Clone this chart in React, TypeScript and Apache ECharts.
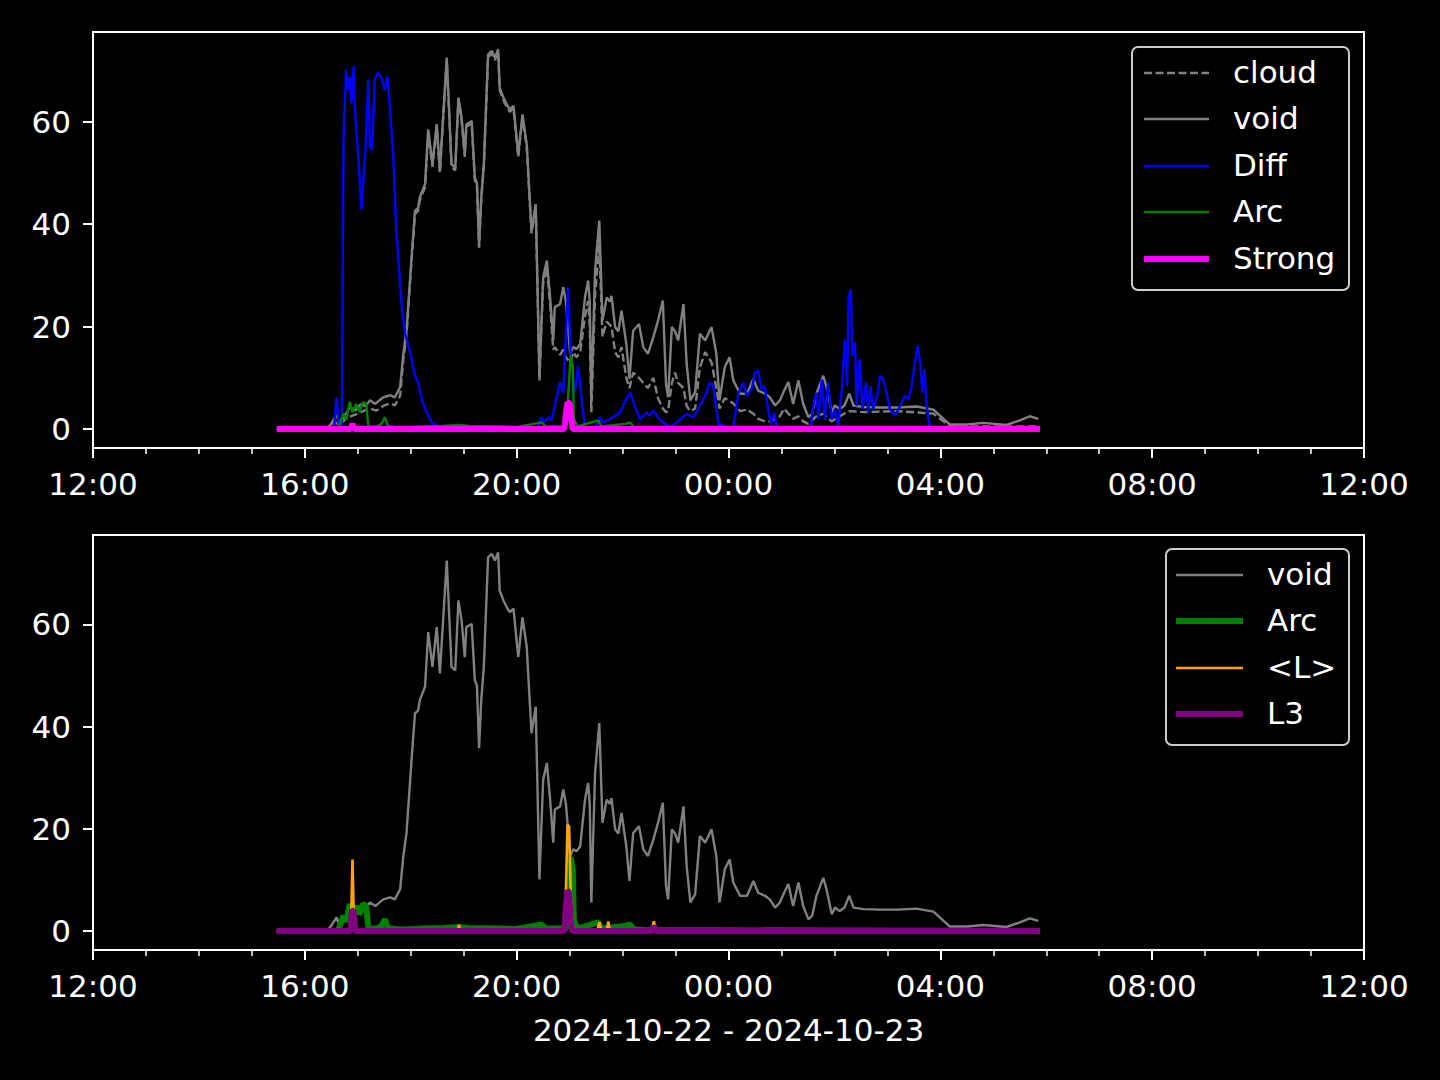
import React, { useEffect, useRef } from "react";
import * as echarts from "echarts";

// x values: hours after 2024-10-22 12:00
const xRange: [number, number] = [0, 24];
const xTickStep = 4;
const yTickValues = [0, 20, 40, 60];
const yRange: [number, number] = [-3.7, 77.5];
const xTitle = "2024-10-22 - 2024-10-23";

const voidData: [number, number][] = [
  [3.47, 0], [4.40, 0], [4.475, 0.7], [4.60, 2.7], [4.66, 1.0], [4.75, 2.5], [4.85, 4.3], [4.95, 3.6],
  [5.05, 4.8], [5.15, 4.5], [5.23, 5.6], [5.33, 4.9], [5.48, 6.2], [5.61, 6.6], [5.70, 6.2], [5.80, 8.2],
  [5.86, 14.7], [5.92, 19.2], [6.02, 34.2], [6.08, 42.6], [6.14, 43.2], [6.17, 45.2], [6.27, 47.8],
  [6.33, 58.5], [6.41, 51.7], [6.49, 59.5], [6.55, 50.4], [6.68, 72.5], [6.77, 51.7], [6.84, 51.0],
  [6.90, 64.7], [6.96, 60.8], [7.02, 53.6], [7.05, 59.5], [7.15, 60.1], [7.21, 49.1], [7.25, 48.0],
  [7.29, 35.8], [7.33, 45.0], [7.38, 51.7], [7.46, 73.1], [7.53, 73.8], [7.59, 72.5], [7.65, 74.1],
  [7.68, 66.6], [7.75, 64.7], [7.81, 63.4], [7.87, 62.4], [7.94, 63.1], [8.03, 53.6], [8.11, 61.4],
  [8.19, 55.6], [8.28, 38.7], [8.36, 43.9], [8.43, 10.1], [8.50, 29.6], [8.57, 32.9], [8.63, 26.0],
  [8.69, 17.3], [8.72, 23.8], [8.82, 24.4], [8.88, 27.7], [8.93, 24.9], [9.01, 14.7], [9.07, 16.0],
  [9.13, 15.6], [9.20, 16.6], [9.29, 25.7], [9.35, 29.0], [9.38, 24.9], [9.41, 5.6], [9.48, 30.9],
  [9.56, 40.7], [9.62, 21.2], [9.70, 25.7], [9.76, 24.9], [9.79, 26.0], [9.86, 19.9], [9.92, 19.1],
  [9.98, 23.1], [10.07, 16.6], [10.13, 9.8], [10.20, 19.2], [10.31, 20.5], [10.39, 16.0], [10.48, 14.7],
  [10.58, 17.9], [10.67, 21.2], [10.76, 25.1], [10.82, 8.8], [10.86, 6.2], [10.93, 19.9], [10.99, 19.1],
  [11.05, 17.3], [11.15, 24.4], [11.21, 12.7], [11.28, 5.6], [11.37, 7.2], [11.46, 18.6], [11.56, 17.3],
  [11.68, 19.9], [11.77, 14.7], [11.83, 5.6], [11.93, 12.1], [12.02, 14.0], [12.09, 9.5], [12.22, 6.9],
  [12.35, 6.9], [12.47, 9.8], [12.56, 7.5], [12.69, 6.9], [12.78, 6.2], [12.88, 4.6], [12.97, 5.6],
  [13.05, 7.5], [13.13, 9.2], [13.22, 4.9], [13.32, 9.5], [13.41, 4.9], [13.51, 2.3], [13.58, 3.0],
  [13.66, 6.9], [13.79, 10.4], [13.85, 8.2], [13.95, 3.3], [14.01, 4.6], [14.10, 3.9], [14.19, 4.6],
  [14.28, 6.9], [14.36, 4.6], [14.55, 4.3], [14.86, 4.2], [15.20, 4.2], [15.55, 4.4], [15.87, 3.8],
  [16.06, 2.0], [16.18, 0.9], [16.50, 0.9], [16.81, 1.2], [17.25, 0.8], [17.50, 1.7], [17.69, 2.5],
  [17.85, 2.0],
];

const cloudData: [number, number][] = [
  [3.47, 0], [4.45, 0], [4.55, 1.4], [4.65, 0.8], [4.80, 2.2], [4.95, 2.8], [5.10, 3.5], [5.23, 4.0],
  [5.35, 3.6], [5.48, 4.5], [5.61, 5.0], [5.70, 4.6], [5.80, 6.5], [5.86, 13.5], [5.92, 18.5],
  [6.02, 33.5], [6.08, 42.0], [6.14, 42.6], [6.17, 44.6], [6.27, 47.2], [6.33, 57.8], [6.41, 51.2],
  [6.49, 58.9], [6.55, 50.0], [6.68, 72.0], [6.77, 51.2], [6.84, 50.5], [6.90, 64.2], [6.96, 60.3],
  [7.02, 53.1], [7.05, 59.0], [7.15, 59.6], [7.21, 48.6], [7.25, 47.5], [7.29, 35.4], [7.33, 44.5],
  [7.38, 51.2], [7.46, 72.6], [7.53, 73.3], [7.59, 72.0], [7.65, 73.6], [7.68, 66.1], [7.75, 64.2],
  [7.81, 62.9], [7.87, 61.9], [7.94, 62.6], [8.03, 53.1], [8.11, 60.9], [8.19, 55.1], [8.28, 38.2],
  [8.36, 43.4], [8.43, 9.5], [8.50, 28.5], [8.57, 31.5], [8.63, 24.5], [8.69, 15.5], [8.72, 16.0],
  [8.82, 14.5], [8.88, 15.5], [8.93, 14.0], [9.01, 13.0], [9.07, 15.0], [9.13, 14.0], [9.20, 15.0],
  [9.29, 22.0], [9.35, 25.0], [9.38, 20.0], [9.41, 3.3], [9.48, 26.0], [9.56, 36.0], [9.62, 18.0],
  [9.70, 21.0], [9.79, 20.0], [9.86, 15.0], [9.92, 14.0], [9.98, 16.0], [10.07, 10.0], [10.13, 8.0],
  [10.20, 11.0], [10.31, 10.0], [10.39, 9.0], [10.48, 8.0], [10.58, 10.0], [10.67, 6.0], [10.76, 4.0],
  [10.82, 3.3], [10.86, 3.5], [10.93, 9.0], [10.99, 11.0], [11.05, 9.0], [11.15, 8.0], [11.21, 4.5],
  [11.28, 3.5], [11.37, 4.0], [11.46, 12.0], [11.56, 15.0], [11.68, 13.0], [11.77, 8.0], [11.83, 4.0],
  [11.93, 6.0], [12.02, 5.5], [12.09, 5.0], [12.22, 3.5], [12.35, 3.8], [12.47, 3.0], [12.56, 2.0],
  [12.69, 1.5], [12.78, 1.5], [12.88, 2.0], [12.97, 2.5], [13.05, 4.0], [13.13, 3.0], [13.22, 2.0],
  [13.32, 2.5], [13.41, 1.5], [13.51, 1.0], [13.66, 2.5], [13.79, 3.0], [13.95, 1.5], [14.10, 2.5],
  [14.28, 3.5], [14.55, 3.3], [15.20, 3.5], [15.87, 3.0], [16.06, 1.5], [16.18, 0.5], [17.88, 0.5],
];

const diffData: [number, number][] = [
  [3.47, 0], [4.55, 0], [4.60, 6.2], [4.65, 0], [4.70, 0.5], [4.73, 56.5], [4.78, 70.1], [4.82, 66.2],
  [4.85, 68.8], [4.88, 63.6], [4.92, 70.8], [4.95, 61.7], [5.01, 53.2], [5.07, 42.9], [5.14, 53.9],
  [5.20, 68.2], [5.23, 55.2], [5.27, 54.5], [5.32, 68.2], [5.38, 69.5], [5.44, 68.8], [5.51, 66.2],
  [5.56, 68.8], [5.61, 62.3], [5.67, 53.2], [5.73, 38.3], [5.83, 24.0], [5.89, 18.8], [5.99, 14.9],
  [6.08, 10.4], [6.14, 9.1], [6.21, 5.8], [6.30, 3.2], [6.40, 1.3], [6.50, 0.6], [6.70, 0.3],
  [7.50, 0.3], [8.40, 0.3], [8.47, 2.3], [8.53, 1.3], [8.60, 2.3], [8.66, 1.7], [8.82, 9.1],
  [8.88, 7.1], [8.97, 27.6], [9.03, 12.3], [9.10, 7.1], [9.16, 12.3], [9.22, 6.5], [9.29, 0.4],
  [9.50, 0.3], [9.57, 2.3], [9.63, 1.3], [9.76, 1.9], [9.95, 3.2], [10.07, 5.8], [10.15, 7.1],
  [10.23, 4.5], [10.33, 1.9], [10.45, 3.2], [10.51, 2.6], [10.58, 3.6], [10.70, 1.9], [10.89, 0.3],
  [11.02, 1.3], [11.21, 2.9], [11.34, 2.3], [11.43, 3.9], [11.56, 6.5], [11.65, 9.1], [11.71, 8.4],
  [11.81, 1.0], [11.96, 0.3], [12.09, 0.3], [12.19, 7.1], [12.28, 9.1], [12.34, 6.5], [12.44, 7.8],
  [12.50, 11.0], [12.56, 11.4], [12.62, 7.8], [12.68, 8.4], [12.74, 4.5], [12.80, 1.0], [12.86, 3.2],
  [12.92, 0], [13.55, 0], [13.60, 4.5], [13.66, 7.1], [13.70, 1.9], [13.76, 9.7], [13.82, 1.9],
  [13.88, 9.1], [13.95, 1.9], [14.01, 3.9], [14.07, 0.6], [14.14, 7.8], [14.20, 17.5], [14.24, 8.4],
  [14.27, 26.0], [14.31, 27.3], [14.34, 14.3], [14.39, 16.9], [14.42, 4.5], [14.48, 13.6], [14.53, 3.9],
  [14.60, 9.1], [14.64, 3.2], [14.68, 8.4], [14.73, 3.9], [14.81, 6.5], [14.86, 10.4], [14.92, 9.7],
  [14.97, 7.8], [15.05, 3.9], [15.14, 2.6], [15.24, 4.5], [15.33, 6.5], [15.40, 5.8], [15.46, 8.4],
  [15.52, 13.0], [15.57, 16.2], [15.62, 13.0], [15.66, 7.1], [15.70, 11.7], [15.74, 4.5], [15.80, 0.6],
  [15.87, 0], [17.88, 0],
];

const arcData: [number, number][] = [
  [3.47, 0], [4.62, 0], [4.68, 1.5], [4.73, 3.0], [4.78, 1.8], [4.85, 5.3], [4.90, 3.3], [4.97, 4.9],
  [5.03, 3.3], [5.10, 5.3], [5.16, 4.9], [5.20, 0.5], [5.35, 0.5], [5.45, 1.0], [5.51, 2.3], [5.57, 0.6],
  [5.70, 0.4], [5.90, 0.3], [6.20, 0.5], [6.60, 0.6], [6.91, 0.8], [7.10, 0.6], [7.69, 0.5], [8.00, 0.4],
  [8.47, 1.3], [8.55, 0.5], [8.93, 0.5], [8.97, 6.0], [9.02, 14.5], [9.06, 12.0], [9.08, 2.0],
  [9.15, 0.5], [9.54, 1.7], [9.60, 0.5], [10.05, 1.0], [10.14, 1.3], [10.22, 0.3], [10.40, 0.2],
  [17.88, 0],
];

const strongData: [number, number][] = [
  [3.47, 0], [4.87, 0], [4.90, 1.0], [4.93, 0], [8.90, 0], [8.93, 3.0], [8.96, 5.2], [9.00, 5.0],
  [9.03, 2.0], [9.06, 0], [17.88, 0],
];

const lMeanData: [number, number][] = [
  [3.47, 0], [4.87, 0], [4.90, 14.0], [4.93, 0], [6.88, 0], [6.91, 1.2], [6.94, 0], [8.90, 0],
  [8.93, 8.0], [8.96, 20.8], [8.99, 20.5], [9.02, 8.0], [9.05, 2.0], [9.08, 0], [9.52, 0], [9.56, 1.7],
  [9.60, 0], [9.70, 0], [9.73, 1.9], [9.76, 0], [10.55, 0], [10.59, 1.9], [10.63, 0], [17.88, 0],
];

const l3Data: [number, number][] = [
  [3.47, 0], [4.86, 0], [4.89, 4.0], [4.92, 4.0], [4.95, 0], [8.90, 0], [8.93, 5.0], [8.96, 8.0],
  [8.99, 7.5], [9.02, 2.0], [9.05, 0], [10.55, 0], [10.59, 1.0], [10.63, 0], [17.88, 0],
];

// ---- styles ----
const FONT = "DejaVu Sans";
const FS = 31;
const WHITE = "#ffffff";

type Sty = { name: string; color: string; width: number; dash?: number[] };
const topStyles: Sty[] = [
  { name: "cloud", color: "#808080", width: 2.4, dash: [8, 3.5] },
  { name: "void", color: "#808080", width: 2.4 },
  { name: "Diff", color: "#0000ff", width: 2.4 },
  { name: "Arc", color: "#008000", width: 2.4 },
  { name: "Strong", color: "#ff00ff", width: 6 },
];
const topSeriesData = [cloudData, voidData, diffData, arcData, strongData];

const bottomStyles: Sty[] = [
  { name: "void", color: "#808080", width: 2.4 },
  { name: "Arc", color: "#008000", width: 6 },
  { name: "<L>", color: "#ffa500", width: 2.6 },
  { name: "L3", color: "#800080", width: 6 },
];
const bottomSeriesData = [voidData, arcData, lMeanData, l3Data];

const grids = [
  { left: 93, top: 32, width: 1271, height: 416 },
  { left: 93, top: 535, width: 1271, height: 415 },
];

const hourLabel = (v: number) => {
  const h = (12 + Math.round(v)) % 24;
  return String(h).padStart(2, "0") + ":00";
};

const makeX = (gi: number) => ({
  type: "value",
  gridIndex: gi,
  min: xRange[0],
  max: xRange[1],
  interval: xTickStep,
  axisLine: { show: true, onZero: false, lineStyle: { color: WHITE, width: 2 } },
  axisTick: { show: true, length: 10, lineStyle: { color: WHITE, width: 2 } },
  minorTick: { show: true, splitNumber: 4, length: 6, lineStyle: { color: WHITE, width: 1.5 } },
  splitLine: { show: false },
  minorSplitLine: { show: false },
  axisLabel: {
    color: WHITE, fontSize: FS, fontFamily: FONT, margin: 20,
    showMinLabel: true, showMaxLabel: true, hideOverlap: false,
    formatter: hourLabel,
  },
  ...(gi === 1
    ? {
        name: xTitle,
        nameLocation: "middle",
        nameGap: 64,
        nameTextStyle: { color: WHITE, fontSize: FS, fontFamily: FONT },
      }
    : {}),
});

const makeY = (gi: number) => ({
  type: "value",
  gridIndex: gi,
  min: yRange[0],
  max: yRange[1],
  axisLine: { show: true, onZero: false, lineStyle: { color: WHITE, width: 2 } },
  axisTick: { show: true, length: 10, customValues: yTickValues, lineStyle: { color: WHITE, width: 2 } },
  splitLine: { show: false },
  axisLabel: {
    color: WHITE, fontSize: FS, fontFamily: FONT, margin: 22,
    customValues: yTickValues,
    formatter: (v: number) => String(Math.round(v)),
  },
});

const makeSeries = (styles: Sty[], datas: [number, number][][], gi: number) =>
  styles.map((s, i) => ({
    type: "line",
    name: s.name,
    xAxisIndex: gi,
    yAxisIndex: gi,
    data: datas[i],
    showSymbol: false,
    symbol: "none",
    lineStyle: { color: s.color, width: s.width, type: s.dash ? s.dash : "solid" },
    itemStyle: { color: s.color },
    emphasis: { disabled: true },
    silent: true,
  }));

const makeLegend = (
  styles: Sty[],
  box: { x: number; y: number; w: number; h: number },
  rows: number[],
  handleX: [number, number],
  textX: number
) => {
  const children: any[] = [
    {
      type: "rect",
      shape: { x: box.x, y: box.y, width: box.w, height: box.h, r: 6 },
      style: { fill: "#000000", stroke: "#cccccc", lineWidth: 2 },
    },
  ];
  styles.forEach((s, i) => {
    children.push({
      type: "line",
      shape: { x1: handleX[0], y1: rows[i], x2: handleX[1], y2: rows[i] },
      style: { stroke: s.color, lineWidth: s.width, lineDash: s.dash || null },
    });
    children.push({
      type: "text",
      style: {
        text: s.name, x: textX, y: rows[i] - 1, fill: WHITE,
        fontSize: FS, fontFamily: FONT, align: "left", verticalAlign: "middle",
      },
    });
  });
  return { type: "group", children };
};

const option: any = {
  animation: false,
  backgroundColor: "#000000",
  textStyle: { fontFamily: FONT },
  grid: grids.map((g) => ({ ...g, show: true, borderColor: WHITE, borderWidth: 2, backgroundColor: "transparent", outerBoundsMode: "none", containLabel: false })),
  xAxis: [makeX(0), makeX(1)],
  yAxis: [makeY(0), makeY(1)],
  series: [...makeSeries(topStyles, topSeriesData, 0), ...makeSeries(bottomStyles, bottomSeriesData, 1)],
  graphic: [
    makeLegend(topStyles, { x: 1132, y: 47, w: 217, h: 243 }, [73, 119, 166, 212, 259], [1144, 1209], 1233),
    makeLegend(bottomStyles, { x: 1166, y: 549, w: 183, h: 196 }, [575, 621, 668, 714], [1176, 1243], 1267),
  ],
};

export default function App() {
  const ref = useRef<HTMLDivElement>(null);
  useEffect(() => {
    document.body.style.margin = "0";
    document.body.style.background = "#000";
    const chart = echarts.init(ref.current!, null, { renderer: "svg" });
    chart.setOption(option);
    return () => chart.dispose();
  }, []);
  return (
    <div
      ref={ref}
      style={{ position: "absolute", left: 0, top: 0, width: 1440, height: 1080, background: "#000" }}
    />
  );
}
